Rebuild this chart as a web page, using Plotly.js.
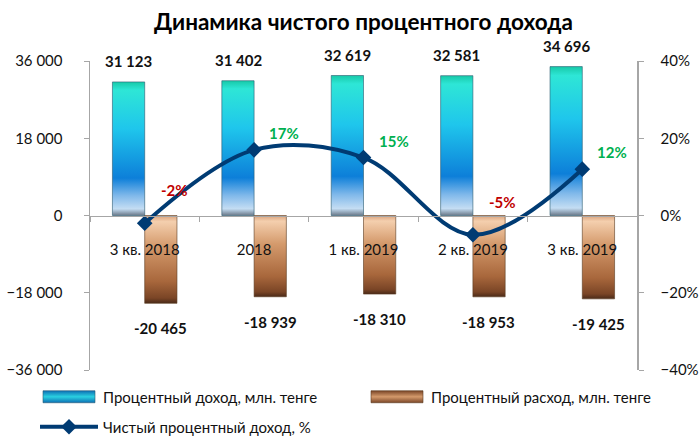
<!DOCTYPE html>
<html><head><meta charset="utf-8">
<script src="https://cdn.plot.ly/plotly-3.0.1.min.js"></script>
<style>html,body{margin:0;padding:0;background:#fff}#chart{width:699px;height:437px}</style>
</head><body><div id="chart"></div>
<script>
const categories = ['3 кв. 2018', '2018', '1 кв. 2019', '2 кв. 2019', '3 кв. 2019'];
const income = [31123, 31402, 32619, 32581, 34696];
const expense = [-20465, -18939, -18310, -18953, -19425];
const netPct = [-2, 17, 15, -5, 12];
const leftTicks = [-36000, -18000, 0, 18000, 36000];
const rightTicks = [-0.4, -0.2, 0, 0.2, 0.4];

const FONT = 'Lato, "Noto Sans", "DejaVu Sans", sans-serif';
function fmt(v) {
  const s = String(Math.abs(v)).replace(/\B(?=(\d{3})+(?!\d))/g, ' ');
  return (v < 0 ? '-' : '') + s;
}

const traces = [
  {type: 'bar', name: 'Процентный доход, млн. тенге', x: categories, y: income, legend: 'legend',
   marker: {color: '#1BA8E0', line: {color: '#2a5a70', width: 0.6}}, hoverinfo: 'y'},
  {type: 'bar', name: 'Процентный расход, млн. тенге', x: categories, y: expense, legend: 'legend3',
   marker: {color: '#B87848', line: {color: '#5a3a20', width: 0.6}}, hoverinfo: 'y'},
  {type: 'scatter', mode: 'lines+markers', name: 'Чистый процентный доход, %', x: categories, legend: 'legend2',
   y: netPct.map(v => v / 100), yaxis: 'y2',
   line: {color: '#003B73', width: 4, shape: 'spline', smoothing: 1},
   marker: {symbol: 'diamond', size: 12, color: '#003B73'}}
];

// annotations use category index (i) on the category axis
const annotations = [];
categories.forEach((c, i) => {
  annotations.push({x: i, y: income[i], xref: 'x', yref: 'y', text: '<b>' + fmt(income[i]) + '</b>',
    showarrow: false, xshift: -16, yshift: 21, font: {family: FONT, size: 15, color: '#111'}});
  annotations.push({x: i, y: expense[i], xref: 'x', yref: 'y', text: '<b>' + fmt(expense[i]) + '</b>',
    showarrow: false, xshift: 16, yshift: -25, font: {family: FONT, size: 15, color: '#111'}});
  annotations.push({x: i, y: netPct[i] / 100, xref: 'x', yref: 'y2', text: '<b>' + netPct[i] + '%</b>',
    showarrow: false, xshift: 30, yshift: netPct[i] < 0 ? 33 : 17,
    font: {family: FONT, size: 15, color: netPct[i] < 0 ? '#C00000' : '#00B050'}});
});

const legendCommon = {orientation: 'h', xref: 'container', yref: 'container', xanchor: 'left', yanchor: 'middle',
  font: {family: FONT, size: 15, color: '#111'}, itemwidth: 58, bgcolor: 'rgba(0,0,0,0)'};

const layout = {
  width: 699, height: 437,
  margin: {l: 90, r: 62, t: 61, b: 67, autoexpand: false},
  paper_bgcolor: '#fff', plot_bgcolor: '#fff',
  separators: ', ',
  font: {family: FONT, size: 15, color: '#111'},
  title: {text: '<b>Динамика чистого процентного дохода</b>', x: 0.5, xref: 'paper', y: 0.95, yref: 'container',
    yanchor: 'middle', font: {family: FONT, size: 22.5, color: '#000'}},
  barmode: 'group', bargap: 0.41, bargroupgap: 0,
  showlegend: true,
  legend: Object.assign({}, legendCommon, {x: 35 / 699, y: 1 - 397 / 437}),
  legend3: Object.assign({}, legendCommon, {x: 363 / 699, y: 1 - 397 / 437}),
  legend2: Object.assign({}, legendCommon, {x: 35 / 699, y: 1 - 427 / 437}),
  xaxis: {type: 'category', range: [-0.5, categories.length - 0.5], autorange: false,
    anchor: 'free', position: 0.5, showline: true, linecolor: '#A6A6A6', linewidth: 1.5,
    ticks: 'outside', tickson: 'boundaries', ticklen: 5, tickcolor: '#A6A6A6',
    showgrid: false, zeroline: false, ticklabelstandoff: 20, tickfont: {family: FONT, size: 15, color: '#111'}},
  yaxis: {range: [-36000, 36000], tickvals: leftTicks, tickformat: ',d', showgrid: false, zeroline: false,
    showline: true, linecolor: '#A6A6A6', linewidth: 1.5, ticks: 'outside', ticklen: 5, tickcolor: '#A6A6A6',
    ticklabelstandoff: 18, tickfont: {family: FONT, size: 15, color: '#111'}},
  yaxis2: {range: [-0.4, 0.4], tickvals: rightTicks, tickformat: '.0%', overlaying: 'y', side: 'right',
    showgrid: false, zeroline: false, showline: true, linecolor: '#A6A6A6', linewidth: 1.5,
    ticks: 'outside', ticklen: 5, tickcolor: '#A6A6A6', ticklabelstandoff: 14,
    tickfont: {family: FONT, size: 15, color: '#111'}},
  annotations: annotations
};

function addGradients(gd) {
  const svg = gd.querySelector('.main-svg');
  if (!svg) return;
  const ns = 'http://www.w3.org/2000/svg';
  let defs = svg.querySelector('defs');
  if (!defs) { defs = document.createElementNS(ns, 'defs'); svg.insertBefore(defs, svg.firstChild); }
  function grad(id, stops, horiz) {
    const g = document.createElementNS(ns, 'linearGradient');
    g.setAttribute('id', id);
    g.setAttribute('x1', 0); g.setAttribute('y1', 0);
    g.setAttribute('x2', horiz ? 1 : 0); g.setAttribute('y2', horiz ? 0 : 1);
    stops.forEach(s => {
      const st = document.createElementNS(ns, 'stop');
      st.setAttribute('offset', s[0]); st.setAttribute('stop-color', s[1]);
      g.appendChild(st);
    });
    defs.appendChild(g);
  }
  grad('gInc', [[0, '#17C9A8'], [0.06, '#2EE6D6'], [0.35, '#1FC6EC'], [0.72, '#0D7FD9'], [0.85, '#7FB8EA'], [0.95, '#C4DDF3'], [1, '#6A7888']]);
  grad('gExp', [[0, '#D9A07A'], [0.07, '#F4CFAE'], [0.35, '#D49A6C'], [0.75, '#A8673C'], [0.94, '#7A4526'], [1, '#4A2A18']]);
  grad('gIncL', [[0, '#0C6FB5'], [0.5, '#2AD0E0'], [1, '#0C6FB5']], false);
  grad('gExpL', [[0, '#7A4526'], [0.5, '#D49A6C'], [1, '#7A4526']], false);
  const bars = gd.querySelectorAll('.barlayer .trace');
  if (bars[0]) bars[0].querySelectorAll('path').forEach(p => p.style.fill = 'url(#gInc)');
  if (bars[1]) bars[1].querySelectorAll('path').forEach(p => p.style.fill = 'url(#gExp)');
  const leg = gd.querySelectorAll('g.traces');
  leg.forEach(t => {
    const txt = t.textContent || '';
    const p = t.querySelector('.legendpoints path');
    if (!p) return;
    if (txt.indexOf('доход, млн') >= 0) { p.setAttribute('d', 'M26,6H-26V-6H26Z'); p.style.fill = 'url(#gIncL)'; }
    else if (txt.indexOf('расход') >= 0) { p.setAttribute('d', 'M26,6H-26V-6H26Z'); p.style.fill = 'url(#gExpL)'; }
  });
}

Plotly.newPlot('chart', traces, layout, {staticPlot: true}).then(addGradients);
</script></body></html>
